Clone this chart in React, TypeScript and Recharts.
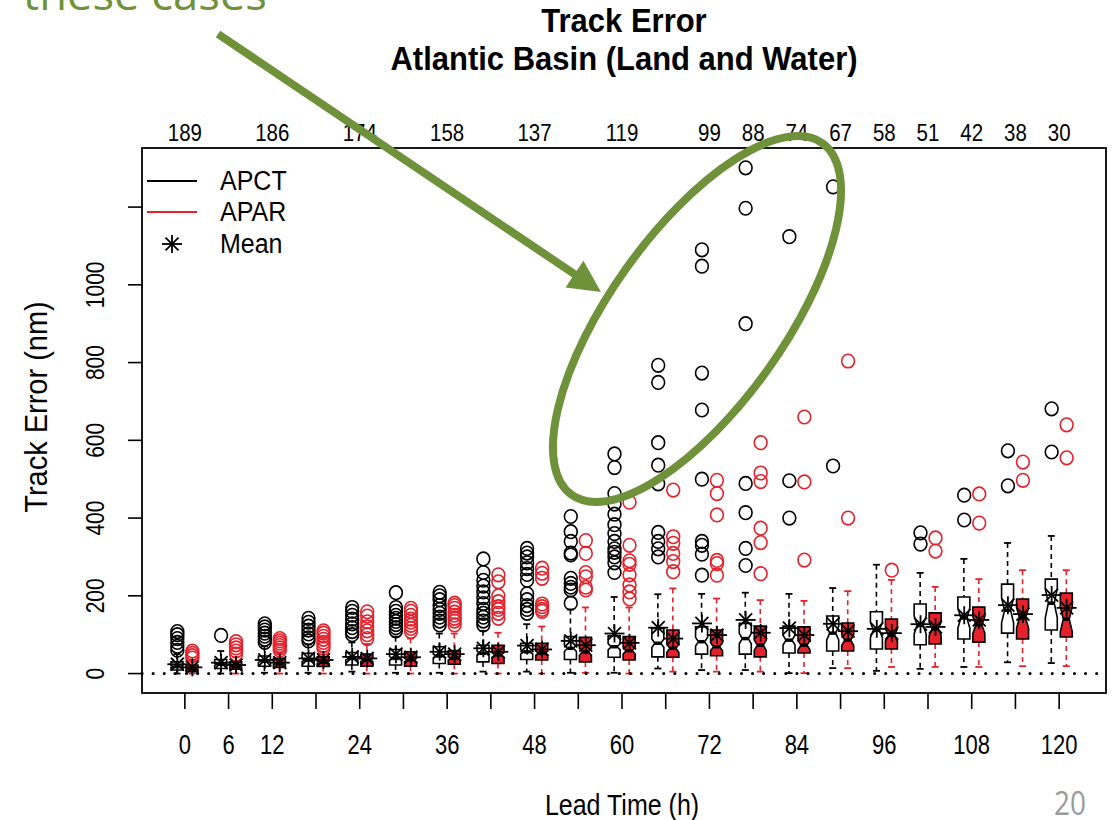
import React from 'react';
import { ComposedChart, Bar, Scatter, XAxis, YAxis, ReferenceLine } from 'recharts';

// ---------- data ----------
const leadTimes = [0, 6, 12, 18, 24, 30, 36, 42, 48, 54, 60, 66, 72, 78, 84, 90, 96, 102, 108, 114, 120];
const caseCounts = [189, 188, 186, 180, 174, 166, 158, 148, 137, 128, 119, 109, 99, 88, 74, 67, 58, 51, 42, 38, 30];
const topLabelLeads = [0, 12, 24, 36, 48, 60, 72, 78, 84, 90, 96, 102, 108, 114, 120];
const bottomLabelLeads = [0, 6, 12, 24, 36, 48, 60, 72, 84, 96, 108, 120];
const yTicks = [0, 200, 400, 600, 800, 1000, 1200];
const yLabelled = [0, 200, 400, 600, 800, 1000];

// APCT
const apctLow = [0, 0, 2, 2, 5, 2, 2, 5, 5, 2, 2, 13, 9, 9, 1, 14, 7, 12, 17, 29, 27];
const apctQ1 = [9, 13, 19, 19, 22, 22, 26, 30, 36, 36, 42, 43, 50, 50, 53, 58, 63, 74, 89, 104, 112];
const apctMed = [18, 24, 32, 35, 39, 39, 45, 52, 56, 65, 69, 78, 82, 90, 86, 104, 112, 125, 143, 163, 181];
const apctQ3 = [30, 36, 45, 52, 54, 62, 69, 73, 78, 95, 97, 116, 120, 129, 122, 148, 159, 179, 197, 230, 243];
const apctHigh = [50, 58, 70, 75, 80, 95, 103, 110, 127, 165, 197, 204, 205, 208, 205, 220, 280, 259, 295, 336, 354];
const apctMean = [24, 28, 35, 39, 43, 50, 56, 65, 72, 84, 103, 118, 129, 138, 117, 128, 115, 127, 150, 176, 202];
const apctOut = [
  [60, 70, 80, 90, 100, 108],
  [98],
  [80, 88, 96, 104, 112, 120, 128],
  [84, 92, 102, 112, 122, 132, 142],
  [100, 108, 118, 128, 140, 150, 160, 170],
  [110, 118, 126, 134, 142, 150, 160, 170, 208],
  [125, 135, 145, 155, 165, 175, 190, 200, 209],
  [125, 135, 145, 155, 165, 180, 195, 210, 225, 240, 260, 295],
  [155, 165, 175, 190, 205, 240, 255, 270, 285, 300, 310, 322],
  [181, 215, 222, 232, 245, 305, 310, 340, 365, 404],
  [260, 285, 300, 312, 321, 340, 360, 383, 410, 436, 463, 530, 565],
  [300, 321, 340, 363, 488, 536, 594, 749, 793],
  [253, 307, 330, 340, 500, 678, 773, 1048, 1090],
  [278, 322, 414, 489, 900, 1197, 1301],
  [400, 496, 1124],
  [534, 1252],
  [],
  [333, 362],
  [395, 459],
  [483, 573],
  [570, 681],
];

// APAR
const aparLow = [0, 0, 0, 0, 0, 0, 0, 0, 0, 2, 0, 5, 5, 5, 1, 14, 17, 17, 17, 19, 19];
const aparQ1 = [5, 11, 16, 18, 19, 19, 24, 26, 35, 30, 35, 42, 46, 43, 53, 58, 63, 76, 81, 89, 94];
const aparMed = [13, 19, 26, 29, 35, 35, 39, 48, 52, 56, 59, 65, 69, 73, 73, 86, 99, 115, 125, 143, 140];
const aparQ3 = [22, 30, 39, 43, 50, 56, 59, 73, 78, 93, 95, 112, 112, 122, 120, 130, 140, 156, 171, 192, 207];
const aparHigh = [33, 42, 52, 56, 76, 90, 103, 105, 121, 170, 170, 219, 193, 189, 187, 212, 241, 223, 243, 266, 266];
const aparMean = [16, 22, 28, 35, 39, 42, 50, 56, 62, 73, 79, 90, 99, 105, 99, 109, 104, 120, 138, 153, 169];
const aparOut = [
  [40, 46, 52, 58],
  [50, 58, 66, 74, 82],
  [60, 66, 72, 78, 84, 90],
  [65, 72, 80, 88, 96, 104, 110],
  [90, 100, 110, 120, 133, 148, 159],
  [108, 116, 124, 132, 140, 150, 160, 168],
  [125, 135, 142, 150, 158, 168, 175, 181],
  [142, 155, 165, 172, 185, 200, 236, 254],
  [160, 165, 172, 179, 245, 258, 271],
  [215, 222, 249, 260, 309, 342],
  [192, 210, 228, 254, 281, 290, 330, 441],
  [262, 288, 309, 335, 352, 472],
  [253, 283, 291, 408, 463, 497],
  [257, 337, 374, 494, 516, 594],
  [292, 493, 660],
  [400, 804],
  [266],
  [315, 349],
  [387, 462],
  [497, 544],
  [555, 640],
];

// ---------- table for the chart ----------
const MAX_OUT = Math.max(...apctOut.map((o) => o.length), ...aparOut.map((o) => o.length));
const rows = leadTimes.map((lt, i) => {
  const r: any = {
    lead: String(lt),
    n: caseCounts[i],
    apctLo: apctLow[i], apctQ1: apctQ1[i], apctMed: apctMed[i], apctQ3: apctQ3[i], apctHi: apctHigh[i], apctMean: apctMean[i],
    aparLo: aparLow[i], aparQ1: aparQ1[i], aparMed: aparMed[i], aparQ3: aparQ3[i], aparHi: aparHigh[i], aparMean: aparMean[i],
  };
  for (let k = 0; k < MAX_OUT; k++) {
    r['apctO' + k] = apctOut[i][k] ?? null;
    r['aparO' + k] = aparOut[i][k] ?? null;
  }
  return r;
});
const outKeys = Array.from({ length: MAX_OUT }, (_, k) => k);

// ---------- styles ----------
const RED = '#E5212B';
const GREEN = '#6F9139';
const FONT = '"Liberation Sans", Arial, Helvetica, sans-serif';
const BAR_SIZE = 12;
const BAR_GAP = 3;
const DX = (BAR_SIZE + BAR_GAP) / 2;

// text helper: anchor-centred, optionally rotated and stretched in glyph height
const T = ({
  x, y, size, children, rot = 0, sy = 1, anchor = 'middle', weight = 'normal', fill = '#000', family = FONT,
}: any) => (
  <text
    transform={`translate(${x},${y}) rotate(${rot}) scale(1,${sy})`}
    x={0}
    y={0}
    textAnchor={anchor}
    dominantBaseline="central"
    fontSize={size}
    fontWeight={weight}
    fontFamily={family}
    fill={fill}
  >
    {children}
  </text>
);

const boxShape = (kind: 'apct' | 'apar') => (props: any) => {
  const { x, y, width, height, payload } = props;
  if (x == null || y == null || !payload) return <g />;
  const lo = payload[kind + 'Lo'];
  const q1 = payload[kind + 'Q1'];
  const med = payload[kind + 'Med'];
  const q3 = payload[kind + 'Q3'];
  const hi = payload[kind + 'Hi'];
  const n = payload.n;
  const top = Math.min(y, y + height);
  const bot = Math.max(y, y + height);
  const py = (v: number) => bot - ((v - lo) / (hi - lo)) * (bot - top);
  const cx = x + width / 2;
  const hw = width / 2;
  const l = x;
  const r = x + width;
  const nl = cx - hw / 2;
  const nr = cx + hw / 2;
  const notch = (1.58 * (q3 - q1)) / Math.sqrt(n);
  const yq1 = py(q1);
  const yq3 = py(q3);
  const ym = py(med);
  const nLo = py(med - notch);
  const nHi = py(med + notch);
  const pts = [
    [l, yq1], [l, nLo], [nl, ym], [l, nHi], [l, yq3],
    [r, yq3], [r, nHi], [nr, ym], [r, nLo], [r, yq1],
  ].map((p) => p.join(',')).join(' ');
  const wc = kind === 'apct' ? '#000' : RED;
  const fill = kind === 'apct' ? '#fff' : RED;
  const cap = hw / 2 + 0.5;
  return (
    <g>
      <line x1={cx} x2={cx} y1={py(hi)} y2={yq3} stroke={wc} strokeWidth={1.6} strokeDasharray="5 4" />
      <line x1={cx} x2={cx} y1={yq1} y2={py(lo)} stroke={wc} strokeWidth={1.6} strokeDasharray="5 4" />
      <line x1={cx - cap} x2={cx + cap} y1={py(hi)} y2={py(hi)} stroke={wc} strokeWidth={1.8} />
      <line x1={cx - cap} x2={cx + cap} y1={py(lo)} y2={py(lo)} stroke={wc} strokeWidth={1.8} />
      <polygon points={pts} fill={fill} stroke="#000" strokeWidth={1.6} strokeLinejoin="miter" />
      <line x1={nl} x2={nr} y1={ym} y2={ym} stroke="#000" strokeWidth={3.5} />
    </g>
  );
};

const outlierShape = (key: string, dx: number, color: string) => (props: any) => {
  const { cx, cy, payload } = props;
  if (!payload || payload[key] == null || cx == null || cy == null || !isFinite(cy)) return <g />;
  return <ellipse cx={cx + dx} cy={cy} rx={6.4} ry={6.8} fill="none" stroke={color} strokeWidth={1.6} />;
};

const Star = ({ x, y, r = 9 }: { x: number; y: number; r?: number }) => {
  const d = r * 0.72;
  return (
    <g stroke="#000" strokeWidth={1.8}>
      <line x1={x - r - 1} x2={x + r + 1} y1={y} y2={y} />
      <line x1={x} x2={x} y1={y - r} y2={y + r} />
      <line x1={x - d} y1={y - d} x2={x + d} y2={y + d} />
      <line x1={x - d} y1={y + d} x2={x + d} y2={y - d} />
    </g>
  );
};

const meanShape = (dx: number) => (props: any) => {
  const { cx, cy } = props;
  if (cx == null || cy == null || !isFinite(cy)) return <g />;
  return <Star x={cx + dx} y={cy} />;
};

const BottomTick = (props: any) => {
  const { x, payload } = props;
  if (!bottomLabelLeads.includes(Number(payload.value))) return <g />;
  return <T x={x} y={744} size={22} sy={1.25}>{payload.value}</T>;
};

const TopTick = (props: any) => {
  const { x, payload } = props;
  const lt = Number(payload.value);
  if (!topLabelLeads.includes(lt)) return <g />;
  const idx = leadTimes.indexOf(lt);
  return <T x={x} y={133} size={20.5} sy={1.2}>{caseCounts[idx]}</T>;
};

const LeftTick = (props: any) => {
  const { y, payload } = props;
  if (!yLabelled.includes(Number(payload.value))) return <g />;
  return <T x={95} y={y} rot={-90} size={21} sy={1.25}>{payload.value}</T>;
};

// arrow geometry for the annotation
const arrowStart = [218, 34];
const arrowTip = [601, 292];
const adx = arrowTip[0] - arrowStart[0];
const ady = arrowTip[1] - arrowStart[1];
const alen = Math.hypot(adx, ady);
const ux = adx / alen;
const uy = ady / alen;
const headLen = 32;
const headHalf = 16;
const baseX = arrowTip[0] - ux * headLen;
const baseY = arrowTip[1] - uy * headLen;

export default function App() {
  return (
    <div style={{ position: 'absolute', left: 0, top: 0, width: 1119, height: 820, background: '#fff' }}>
      <ComposedChart
        width={1119}
        height={820}
        data={rows}
        margin={{ top: 118, right: 13, bottom: 97, left: 82 }}
        barSize={BAR_SIZE}
        barGap={BAR_GAP}
      >
        <XAxis
          dataKey="lead"
          type="category"
          interval={0}
          padding={{ left: 21, right: 25 }}
          axisLine={false}
          tickLine={{ stroke: '#000', strokeWidth: 1.6 }}
          tickSize={16}
          height={30}
          tick={<BottomTick />}
        />
        <XAxis
          xAxisId="top"
          orientation="top"
          dataKey="lead"
          type="category"
          interval={0}
          padding={{ left: 21, right: 25 }}
          axisLine={false}
          tickLine={false}
          height={30}
          tick={<TopTick />}
        />
        <YAxis
          type="number"
          domain={[-50, 1352]}
          allowDataOverflow
          ticks={yTicks}
          interval={0}
          width={60}
          axisLine={false}
          tickLine={{ stroke: '#000', strokeWidth: 1.6 }}
          tickSize={14}
          tick={<LeftTick />}
        />
        <ReferenceLine y={0} stroke="#000" strokeWidth={3} strokeDasharray="0.1 11" strokeLinecap="round" />
        <Bar dataKey={(d: any) => [d.apctLo, d.apctHi]} shape={boxShape('apct')} isAnimationActive={false} />
        <Bar dataKey={(d: any) => [d.aparLo, d.aparHi]} shape={boxShape('apar')} isAnimationActive={false} />
        {outKeys.map((k) => (
          <Scatter
            key={'co' + k}
            dataKey={'apctO' + k}
            shape={outlierShape('apctO' + k, -DX, '#000')}
            isAnimationActive={false}
          />
        ))}
        {outKeys.map((k) => (
          <Scatter
            key={'ro' + k}
            dataKey={'aparO' + k}
            shape={outlierShape('aparO' + k, DX, RED)}
            isAnimationActive={false}
          />
        ))}
        <Scatter dataKey="apctMean" shape={meanShape(-DX)} isAnimationActive={false} />
        <Scatter dataKey="aparMean" shape={meanShape(DX)} isAnimationActive={false} />
      </ComposedChart>

      <svg
        width={1119}
        height={820}
        style={{ position: 'absolute', left: 0, top: 0, pointerEvents: 'none' }}
      >
        {/* plot frame */}
        <rect x={142} y={148} width={964} height={545} fill="none" stroke="#000" strokeWidth={1.8} />

        {/* titles */}
        <T x={624} y={21} size={31} weight="bold" sy={1.05}>Track Error</T>
        <T x={624} y={59} size={31} weight="bold" sy={1.05}>Atlantic Basin (Land and Water)</T>
        <T x={622} y={805} size={25} sy={1.15}>Lead Time (h)</T>
        <T x={35} y={407} rot={-90} size={29} sy={1.1}>Track Error (nm)</T>

        {/* legend */}
        <line x1={147} x2={197} y1={181} y2={181} stroke="#000" strokeWidth={1.8} />
        <line x1={147} x2={197} y1={212} y2={212} stroke={RED} strokeWidth={1.8} />
        <Star x={172} y={244} />
        <T x={220} y={181} size={25} sy={1.12} anchor="start">APCT</T>
        <T x={220} y={212} size={25} sy={1.12} anchor="start">APAR</T>
        <T x={220} y={244} size={25} sy={1.12} anchor="start">Mean</T>

        {/* slide annotation */}
        <text x={23} y={10} fontSize={44} fontFamily='"Open Sans", sans-serif' fill={GREEN} textLength={244} lengthAdjust="spacingAndGlyphs">
          these cases
        </text>
        <line x1={arrowStart[0]} y1={arrowStart[1]} x2={baseX + ux * 2} y2={baseY + uy * 2} stroke={GREEN} strokeWidth={8} />
        <polygon
          points={`${arrowTip[0]},${arrowTip[1]} ${baseX - uy * headHalf},${baseY + ux * headHalf} ${baseX + uy * headHalf},${baseY - ux * headHalf}`}
          fill={GREEN}
        />
        <ellipse cx={697} cy={319} rx={216} ry={87} transform="rotate(-54.5, 697, 319)" fill="none" stroke={GREEN} strokeWidth={8} />

        {/* page number */}
        <T x={1070} y={803} size={28} sy={1.15} fill="#9a9a9a" family='"Open Sans", sans-serif'>20</T>
      </svg>
    </div>
  );
}
